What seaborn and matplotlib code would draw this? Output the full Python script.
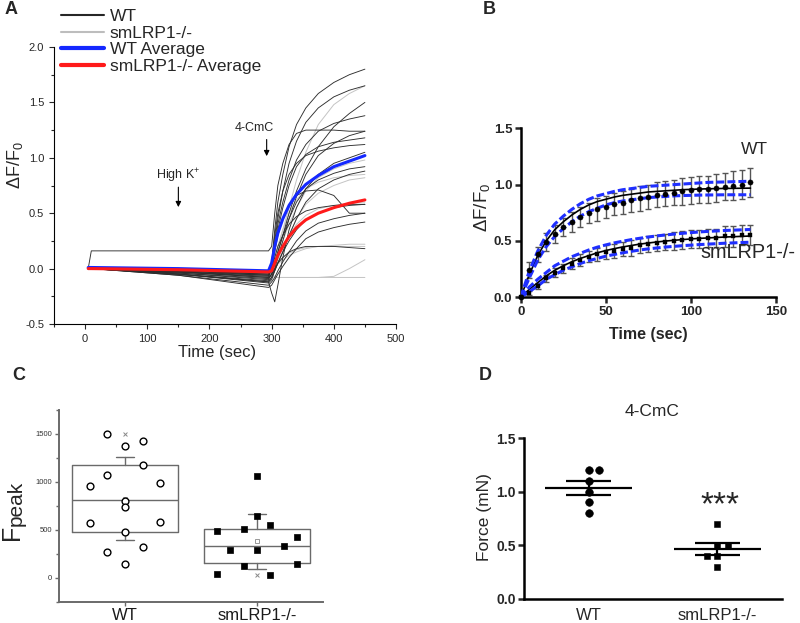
import numpy as np
import pandas as pd
import matplotlib
matplotlib.use("Agg")
import matplotlib.pyplot as plt
from matplotlib.lines import Line2D
from matplotlib.ticker import MultipleLocator
import seaborn as sns

sns.set_style("ticks")
plt.rcParams['font.family'] = ['Liberation Sans', 'DejaVu Sans']
plt.rcParams['mathtext.fontset'] = 'custom'
plt.rcParams['mathtext.rm'] = 'Liberation Sans'
plt.rcParams['mathtext.it'] = 'Liberation Sans:italic'
plt.rcParams['mathtext.bf'] = 'Liberation Sans:bold'

# ---------------- Panel A data ----------------
a_time = [5, 10, 150, 295, 300, 305, 310, 318, 328, 340, 355, 375, 400, 425, 450]
wt_traces = [
    [0, 0, -0.02, -0.05, 0.05, 0.35, 0.60, 0.85, 1.10, 1.30, 1.45, 1.58, 1.68, 1.75, 1.80],
    [0, 0, -0.03, -0.08, 0.00, 0.25, 0.45, 0.70, 0.95, 1.15, 1.32, 1.45, 1.55, 1.61, 1.65],
    [0, 0, -0.04, -0.10, -0.05, 0.05, 0.15, 0.30, 0.50, 0.70, 0.90, 1.10, 1.28, 1.40, 1.50],
    [0, 0, -0.02, -0.06, 0.00, 0.20, 0.40, 0.60, 0.80, 0.98, 1.12, 1.24, 1.31, 1.35, 1.38],
    [0, 0.16, 0.16, 0.16, 0.20, 0.50, 0.75, 0.95, 1.12, 1.22, 1.25, 1.25, 1.25, 1.24, 1.24],
    [0, 0, -0.05, -0.12, -0.08, 0.00, 0.10, 0.25, 0.45, 0.65, 0.85, 1.02, 1.13, 1.20, 1.24],
    [0, 0, -0.03, -0.07, 0.00, 0.20, 0.35, 0.55, 0.75, 0.92, 1.03, 1.10, 1.14, 1.16, 1.18],
    [0, 0, -0.02, -0.04, 0.05, 0.30, 0.50, 0.70, 0.85, 0.95, 1.02, 1.06, 1.09, 1.11, 1.12],
    [0, 0, -0.04, -0.09, -0.05, 0.05, 0.15, 0.30, 0.45, 0.60, 0.72, 0.80, 0.86, 0.90, 0.92],
    [0, 0, -0.05, -0.13, -0.10, -0.02, 0.05, 0.15, 0.30, 0.45, 0.60, 0.72, 0.80, 0.85, 0.88],
    [0, 0, -0.03, -0.06, 0.00, 0.15, 0.30, 0.45, 0.58, 0.66, 0.70, 0.71, 0.66, 0.50, 0.50],
    [0, 0, -0.05, -0.11, -0.08, -0.02, 0.05, 0.15, 0.25, 0.35, 0.44, 0.50, 0.55, 0.57, 0.58],
    [0, 0, -0.02, -0.05, 0.00, 0.10, 0.20, 0.30, 0.40, 0.47, 0.52, 0.55, 0.57, 0.58, 0.58],
    [0, 0, -0.06, -0.15, -0.12, -0.08, -0.02, 0.06, 0.15, 0.25, 0.34, 0.41, 0.45, 0.48, 0.50],
    [0, 0, -0.06, -0.17, -0.15, -0.10, -0.05, 0.02, 0.10, 0.18, 0.27, 0.33, 0.37, 0.40, 0.42],
    [0, 0, -0.05, -0.12, -0.22, -0.30, -0.15, 0.10, 0.35, 0.55, 0.72, 0.85, 0.95, 1.00, 1.05],
    [0, 0, -0.03, -0.08, -0.05, 0.00, 0.05, 0.10, 0.15, 0.18, 0.20, 0.20, 0.20, 0.19, 0.18],
]
ko_traces = [
    [0, 0, -0.02, -0.05, 0.00, 0.10, 0.20, 0.35, 0.55, 0.80, 1.05, 1.30, 1.48, 1.58, 1.65],
    [0, 0, -0.03, -0.07, -0.03, 0.05, 0.12, 0.25, 0.40, 0.55, 0.70, 0.82, 0.90, 0.95, 0.98],
    [0, 0, -0.02, -0.04, 0.00, 0.10, 0.20, 0.35, 0.50, 0.62, 0.72, 0.78, 0.82, 0.84, 0.85],
    [0, 0, -0.04, -0.09, -0.06, 0.00, 0.08, 0.18, 0.30, 0.45, 0.58, 0.68, 0.75, 0.80, 0.82],
    [0, 0, -0.03, -0.06, -0.03, 0.03, 0.10, 0.20, 0.30, 0.40, 0.48, 0.54, 0.57, 0.59, 0.60],
    [0, 0, -0.03, -0.07, -0.04, 0.00, 0.04, 0.08, 0.12, 0.15, 0.18, 0.20, 0.21, 0.22, 0.22],
    [0, 0, -0.02, -0.05, -0.03, 0.00, 0.05, 0.10, 0.14, 0.17, 0.19, 0.20, 0.20, 0.20, 0.20],
    [0, 0, -0.03, -0.06, -0.06, -0.07, -0.08, -0.08, -0.08, -0.08, -0.08, -0.08, -0.07, 0.00, 0.08],
    [0, 0, -0.03, -0.06, -0.07, -0.08, -0.08, -0.08, -0.08, -0.08, -0.08, -0.08, -0.08, -0.08, -0.08],
]
wt_avg = [0.01, 0.01, 0.00, -0.02, 0.05, 0.20, 0.32, 0.45, 0.57, 0.67, 0.76, 0.84, 0.92, 0.97, 1.02]
ko_avg = [0.00, 0.00, -0.01, -0.03, -0.02, 0.05, 0.12, 0.20, 0.29, 0.37, 0.44, 0.50, 0.55, 0.59, 0.62]
legend_labels = ["WT", "smLRP1-/-", "WT Average", "smLRP1-/- Average"]

# ---------------- Panel B data ----------------
b_time = [0, 5, 10, 15, 20, 25, 30, 35, 40, 45, 50, 55, 60, 65, 70, 75, 80, 85, 90, 95,
          100, 105, 110, 115, 120, 125, 130, 135]
b_wt_mean = [0.00, 0.24, 0.38, 0.49, 0.56, 0.62, 0.67, 0.71, 0.75, 0.78, 0.80, 0.83, 0.84, 0.86,
             0.88, 0.89, 0.91, 0.92, 0.93, 0.94, 0.95, 0.96, 0.96, 0.97, 0.98, 0.99, 1.00, 1.02]
b_wt_err = [0.00, 0.07, 0.07, 0.08, 0.08, 0.08, 0.09, 0.09, 0.09, 0.10, 0.10, 0.10, 0.10, 0.10,
            0.11, 0.11, 0.11, 0.11, 0.11, 0.12, 0.12, 0.12, 0.12, 0.12, 0.12, 0.13, 0.13, 0.13]
b_ko_mean = [0.00, 0.04, 0.10, 0.17, 0.22, 0.26, 0.30, 0.33, 0.36, 0.38, 0.40, 0.41, 0.43, 0.44,
             0.46, 0.47, 0.48, 0.49, 0.50, 0.51, 0.52, 0.52, 0.53, 0.53, 0.54, 0.54, 0.55, 0.555]
b_ko_err = [0.00, 0.02, 0.03, 0.03, 0.04, 0.04, 0.05, 0.05, 0.05, 0.06, 0.06, 0.06, 0.06, 0.07,
            0.07, 0.07, 0.07, 0.07, 0.08, 0.08, 0.08, 0.08, 0.08, 0.08, 0.09, 0.09, 0.09, 0.09]
b_wt_fit = [0.00, 0.20, 0.37, 0.50, 0.60, 0.67, 0.73, 0.78, 0.82, 0.85, 0.87, 0.89, 0.905, 0.915,
            0.925, 0.935, 0.94, 0.945, 0.95, 0.955, 0.958, 0.961, 0.963, 0.965, 0.966, 0.967, 0.968, 0.969]
b_wt_hi = [0.00, 0.23, 0.41, 0.55, 0.65, 0.72, 0.78, 0.83, 0.87, 0.90, 0.92, 0.94, 0.955, 0.965,
           0.975, 0.985, 0.99, 0.995, 1.00, 1.005, 1.01, 1.015, 1.02, 1.022, 1.024, 1.026, 1.028, 1.03]
b_wt_lo = [0.00, 0.17, 0.33, 0.45, 0.54, 0.61, 0.67, 0.72, 0.76, 0.79, 0.82, 0.84, 0.855, 0.865,
           0.875, 0.885, 0.89, 0.895, 0.90, 0.903, 0.905, 0.907, 0.908, 0.909, 0.91, 0.91, 0.91, 0.91]
b_ko_fit = [0.00, 0.07, 0.13, 0.19, 0.24, 0.28, 0.315, 0.345, 0.37, 0.395, 0.415, 0.432, 0.447, 0.46,
            0.472, 0.482, 0.491, 0.499, 0.506, 0.512, 0.518, 0.523, 0.527, 0.531, 0.535, 0.538, 0.541, 0.544]
b_ko_hi = [0.00, 0.09, 0.16, 0.22, 0.28, 0.32, 0.36, 0.39, 0.42, 0.445, 0.465, 0.483, 0.498, 0.512,
           0.524, 0.535, 0.545, 0.553, 0.561, 0.568, 0.574, 0.58, 0.585, 0.589, 0.593, 0.596, 0.599, 0.602]
b_ko_lo = [0.00, 0.05, 0.10, 0.16, 0.20, 0.24, 0.27, 0.30, 0.325, 0.345, 0.365, 0.38, 0.395, 0.408,
           0.42, 0.43, 0.438, 0.446, 0.452, 0.458, 0.463, 0.468, 0.472, 0.476, 0.48, 0.483, 0.486, 0.489]

# ---------------- Panel C data ----------------
groups = ["WT", "smLRP1-/-"]
c_wt = [1500, 1378, 1427, 1176, 1072, 957, 992, 804, 741, 568, 578, 474, 317, 265, 140]
c_ko = [1065, 647, 553, 484, 505, 292, 292, 328, 425, 119, 146, 42, 28]
c_q1 = [474, 150]
c_med = [806, 331]
c_q3 = [1172, 505]
# layout: column slot of each point
c_wt_col = [-1, 0, 1, 1, -1, -2, 2, 0, 0, -2, 2, 0, 1, -1, 0]
c_ko_col = [0, 0, 1, -3, -1, -2, 0, 2, 3, -1, 3, -3, 1]

# ---------------- Panel D data ----------------
d_wt = [1.2, 1.2, 1.1, 1.0, 0.9, 0.8]
d_ko = [0.7, 0.5, 0.5, 0.4, 0.4, 0.3]
d_wt_col = [0, 1, 0, 0, 0, 0]
d_ko_col = [0, 0, 1, -1, 0, 0]

# ---------------- figure ----------------
W, H = 800, 623
fig = plt.figure(figsize=(8, 6.23), dpi=100)


def rect(l, t, r, b):
    return [l / W, 1 - b / H, (r - l) / W, (b - t) / H]


def ftext(x, y, s, **kw):
    fig.text(x / W, 1 - y / H, s, **kw)


# ======== Panel A ========
axA = fig.add_axes(rect(54, 47, 396, 324))
rows = []
for i, tr in enumerate(ko_traces):
    for t, v in zip(a_time, tr):
        rows.append(dict(time=t, value=v, trace=f"k{i}", group="smLRP1-/-"))
for i, tr in enumerate(wt_traces):
    for t, v in zip(a_time, tr):
        rows.append(dict(time=t, value=v, trace=f"w{i}", group="WT"))
dfA = pd.DataFrame(rows)
sns.lineplot(data=dfA[dfA.group == "smLRP1-/-"], x="time", y="value", units="trace",
             estimator=None, color="#c4c4c4", lw=0.7, ax=axA, legend=False)
sns.lineplot(data=dfA[dfA.group == "WT"], x="time", y="value", units="trace",
             estimator=None, color="#2e2e2e", lw=0.65, ax=axA, legend=False)
sns.lineplot(x=a_time, y=wt_avg, color="#1428ff", lw=2.2, ax=axA)
sns.lineplot(x=a_time, y=ko_avg, color="#ff1a1a", lw=2.2, ax=axA)
axA.set_xlim(-50, 500)
axA.set_ylim(-0.5, 2.0)
axA.xaxis.set_major_locator(MultipleLocator(100))
axA.xaxis.set_minor_locator(MultipleLocator(50))
axA.yaxis.set_major_locator(MultipleLocator(0.5))
axA.yaxis.set_minor_locator(MultipleLocator(0.25))
axA.yaxis.set_major_formatter(matplotlib.ticker.FormatStrFormatter("%.1f"))
axA.tick_params(which="major", length=3.5, width=0.8, labelsize=8, direction="out")
axA.tick_params(which="minor", length=2, width=0.8, direction="out")
for s in ["top", "right"]:
    axA.spines[s].set_visible(False)
for s in ["left", "bottom"]:
    axA.spines[s].set_linewidth(0.8)
    axA.spines[s].set_color("black")
axA.set_xlabel("")
axA.set_ylabel("")
axA.annotate("", xy=(150, 0.53), xytext=(150, 0.76),
             arrowprops=dict(arrowstyle="-|>", color="k", lw=0.8, mutation_scale=8))
axA.text(150, 0.84, r"High K$^{+}$", ha="center", va="center", fontsize=9)
axA.annotate("", xy=(292, 0.99), xytext=(292, 1.19),
             arrowprops=dict(arrowstyle="-|>", color="k", lw=0.8, mutation_scale=8))
axA.text(272, 1.27, "4-CmC", ha="center", va="center", fontsize=9)
ftext(217, 353, "Time (sec)", ha="center", va="center", fontsize=12)
ftext(15, 165, r"ΔF/F$_0$", ha="center", va="center", rotation=90, fontsize=13)
handles = [Line2D([], [], color="#262626", lw=1.5), Line2D([], [], color="#bdbdbd", lw=1.5),
           Line2D([], [], color="#1428ff", lw=3), Line2D([], [], color="#ff1a1a", lw=3)]
fig.legend(handles, legend_labels, loc="upper left", bbox_to_anchor=(61 / W, 1 - 9 / H),
           frameon=False, fontsize=12.5, handlelength=2.5, handletextpad=0.3,
           labelspacing=0.08, borderpad=0, borderaxespad=0)

# ======== Panel B ========
axB = fig.add_axes(rect(520.7, 128.3, 776, 297.3))
axB.errorbar(b_time, b_wt_mean, yerr=b_wt_err, fmt="none", ecolor="#555555",
             elinewidth=1, capsize=2.5, capthick=1, zorder=2)
axB.errorbar(b_time, b_ko_mean, yerr=b_ko_err, fmt="none", ecolor="#555555",
             elinewidth=1, capsize=2.5, capthick=1, zorder=2)
sns.lineplot(x=b_time, y=b_wt_fit, color="k", lw=1.2, ax=axB, zorder=3)
sns.lineplot(x=b_time, y=b_ko_fit, color="k", lw=1.2, ax=axB, zorder=3)
for band in (b_wt_hi, b_wt_lo, b_ko_hi, b_ko_lo):
    sns.lineplot(x=b_time, y=band, color="#1f2fff", lw=2.2,
                 linestyle=(0, (2.6, 1.0)), ax=axB, zorder=4)
sns.scatterplot(x=b_time, y=b_wt_mean, marker="o", s=14, color="k", edgecolor="k",
                ax=axB, zorder=5, clip_on=False)
sns.scatterplot(x=b_time, y=b_ko_mean, marker="s", s=12, color="k", edgecolor="k",
                ax=axB, zorder=5, clip_on=False)
axB.set_xlim(0, 150)
axB.set_ylim(0, 1.5)
axB.set_xticks([0, 50, 100, 150])
axB.set_yticks([0, 0.5, 1.0, 1.5])
axB.set_yticklabels(["0.0", "0.5", "1.0", "1.5"])
axB.tick_params(length=4, width=1.8, labelsize=9.5, direction="out", pad=2)
for lbl in axB.get_xticklabels() + axB.get_yticklabels():
    lbl.set_fontweight("bold")
for s in ["top", "right"]:
    axB.spines[s].set_visible(False)
for s in ["left", "bottom"]:
    axB.spines[s].set_linewidth(1.8)
    axB.spines[s].set_color("black")
axB.set_xlabel("")
axB.set_ylabel("")
ftext(648, 334, "Time (sec)", ha="center", va="center", fontsize=11.5, fontweight="bold")
ftext(482, 207, r"ΔF/F$_0$", ha="center", va="center", rotation=90, fontsize=13.5)
ftext(741, 150, "WT", ha="left", va="center", fontsize=12.5)
ftext(700, 253, "smLRP1-/-", ha="left", va="center", fontsize=14.3)

# ======== Panel C ========
axC = fig.add_axes(rect(59, 410, 323, 601.7))
gray = "#6a6a6a"
stats = []
for i, vals in enumerate([c_wt, c_ko]):
    arr = np.array(vals, dtype=float)
    m, sd = arr.mean(), arr.std(ddof=1)
    stats.append(dict(med=c_med[i], q1=c_q1[i], q3=c_q3[i], whislo=m - sd, whishi=m + sd,
                      mean=m, fliers=[]))
axC.bxp(stats, positions=[0, 1], widths=0.81, showmeans=True, showfliers=False,
        capwidths=0.13,
        boxprops=dict(color=gray, lw=1.0), medianprops=dict(color=gray, lw=1.0),
        whiskerprops=dict(color=gray, lw=1.0), capprops=dict(color=gray, lw=1.0),
        meanprops=dict(marker="s", markersize=3, markerfacecolor="white",
                       markeredgecolor="#888888", markeredgewidth=0.6))
ext_x = [0, 0, 1, 1]
ext_y = [max(c_wt), min(c_wt), max(c_ko), min(c_ko)]
sns.scatterplot(x=ext_x, y=ext_y, marker="x", s=8, color="#888888", linewidth=0.7, ax=axC, zorder=3)
sns.scatterplot(x=[0 + 0.134 * c for c in c_wt_col], y=c_wt, marker="o", s=24,
                facecolor="white", edgecolor="k", linewidth=1.0, ax=axC, zorder=4)
sns.scatterplot(x=[1 + 0.101 * c for c in c_ko_col], y=c_ko, marker="s", s=16,
                color="k", edgecolor="k", linewidth=0.5, ax=axC, zorder=4)
axC.set_xlim(-0.5, 1.5)
axC.set_ylim(-250, 1750)
axC.set_xticks([0, 1])
axC.set_xticklabels(groups, fontsize=12)
axC.set_yticks([0, 500, 1000, 1500])
axC.yaxis.set_minor_locator(MultipleLocator(250))
axC.tick_params(axis="y", which="major", length=3, width=1, labelsize=5.5, colors=gray,
                labelcolor="#333333", pad=2)
axC.tick_params(axis="y", which="minor", length=2, width=1, colors=gray)
axC.tick_params(axis="x", length=3, width=1, colors=gray, labelcolor="#1a1a1a", pad=1.5)
for s in ["top", "right"]:
    axC.spines[s].set_visible(False)
for s in ["left", "bottom"]:
    axC.spines[s].set_linewidth(1.4)
    axC.spines[s].set_color(gray)
axC.set_xlabel("")
axC.set_ylabel("")
ftext(12, 532, "F", ha="center", va="center", rotation=90, fontsize=18)
ftext(16, 503, "peak", ha="center", va="center", rotation=90, fontsize=15)

# ======== Panel D ========
axD = fig.add_axes(rect(524.3, 438.3, 781.7, 598.7))
for i, vals in enumerate([d_wt, d_ko]):
    arr = np.array(vals)
    m = arr.mean()
    sem = arr.std(ddof=1) / np.sqrt(len(arr))
    axD.hlines(m, i - 0.337, i + 0.337, color="k", lw=1.6, zorder=2)
    axD.hlines([m - sem, m + sem], i - 0.175, i + 0.175, color="k", lw=1.6, zorder=2)
    axD.vlines(i, m - sem, m + sem, color="k", lw=1.6, zorder=2)
sns.scatterplot(x=[0 + 0.078 * c for c in d_wt_col], y=d_wt, marker="o", s=30, color="k",
                edgecolor="k", ax=axD, zorder=3)
sns.scatterplot(x=[1 + 0.083 * c for c in d_ko_col], y=d_ko, marker="s", s=24, color="k",
                edgecolor="k", ax=axD, zorder=3)
axD.set_xlim(-0.5, 1.5)
axD.set_ylim(0, 1.5)
axD.set_xticks([0, 1])
axD.set_xticklabels(groups, fontsize=12)
axD.set_yticks([0, 0.5, 1.0, 1.5])
axD.set_yticklabels(["0.0", "0.5", "1.0", "1.5"])
axD.tick_params(axis="y", length=4, width=1.8, labelsize=10, pad=2)
axD.tick_params(axis="x", length=0, pad=6.5)
for lbl in axD.get_yticklabels():
    lbl.set_fontweight("bold")
for s in ["top", "right"]:
    axD.spines[s].set_visible(False)
for s in ["left", "bottom"]:
    axD.spines[s].set_linewidth(1.8)
    axD.spines[s].set_color("black")
axD.set_xlabel("")
axD.set_ylabel("")
axD.text(1.02, 0.87, "***", ha="center", va="center", fontsize=24,
         transform=axD.transData)
ftext(652, 412, "4-CmC", ha="center", va="center", fontsize=12.5)
ftext(484, 517, "Force (mN)", ha="center", va="center", rotation=90, fontsize=12.5)

# panel letters
ftext(11, 10, "A", ha="center", va="center", fontsize=13, fontweight="bold")
ftext(489, 10, "B", ha="center", va="center", fontsize=13, fontweight="bold")
ftext(19, 375, "C", ha="center", va="center", fontsize=13, fontweight="bold")
ftext(485, 376, "D", ha="center", va="center", fontsize=13, fontweight="bold")

fig.savefig("out.png", dpi=100)
